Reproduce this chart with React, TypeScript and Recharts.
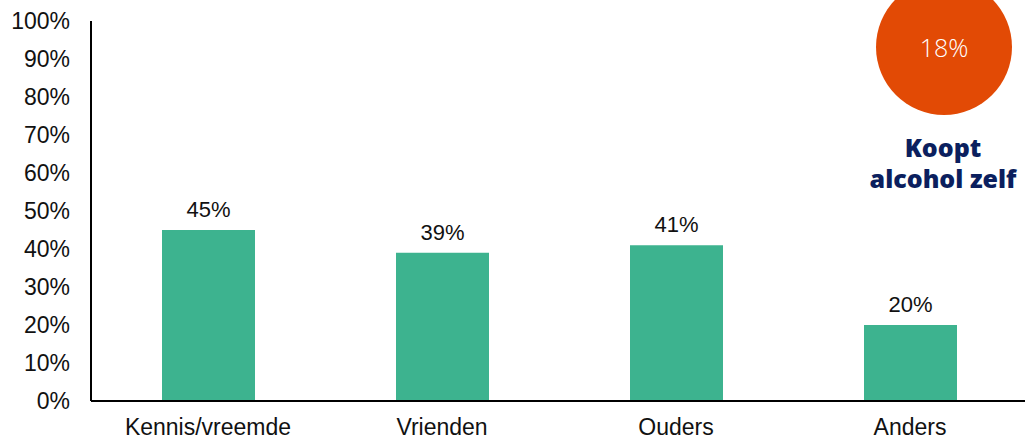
import React from "react";
import { BarChart, Bar, XAxis, YAxis, LabelList } from "recharts";

const categories = ["Kennis/vreemde", "Vrienden", "Ouders", "Anders"];
const values = [45, 39, 41, 20];
const yTicks = [0, 10, 20, 30, 40, 50, 60, 70, 80, 90, 100];
const highlightValue = 18;
const highlightLabel = ["Koopt", "alcohol zelf"];

const data = categories.map((name, i) => ({ name, value: values[i] }));

const FONT = "'Liberation Sans', Arial, Helvetica, sans-serif";

export default function App() {
  return (
    <div style={{ position: "absolute", left: 0, top: 0, width: 1025, height: 440, overflow: "hidden", background: "#fff" }}>
      <BarChart
        width={1027}
        height={440}
        data={data}
        margin={{ top: 21, right: 0, bottom: 0, left: 0 }}
        barCategoryGap="30%"
      >
        <XAxis
          dataKey="name"
          axisLine={{ stroke: "#000", strokeWidth: 2 }}
          tickLine={false}
          tickSize={0}
          tickMargin={18}
          height={39}
          tick={{ fill: "#111", fontSize: 23, fontFamily: FONT }}
          interval={0}
        />
        <YAxis
          domain={[0, 100]}
          ticks={yTicks}
          tickFormatter={(v: number) => `${v}%`}
          axisLine={{ stroke: "#000", strokeWidth: 2 }}
          tickLine={false}
          tickSize={0}
          tickMargin={21}
          width={91}
          tick={{ fill: "#111", fontSize: 23, fontFamily: FONT }}
        />
        <Bar dataKey="value" fill="#3DB38F" barSize={93} isAnimationActive={false}>
          <LabelList
            dataKey="value"
            position="top"
            offset={13}
            formatter={(v: number) => `${v}%`}
            style={{ fill: "#111", fontSize: 22, fontFamily: FONT }}
          />
        </Bar>
      </BarChart>
      <div
        style={{
          position: "absolute",
          left: 876,
          top: -21,
          width: 136,
          height: 136,
          borderRadius: "50%",
          background: "#E24A05",
          color: "#fff",
          display: "flex",
          alignItems: "center",
          justifyContent: "center",
          fontFamily: "'Open Sans', Inter, sans-serif",
          fontSize: 25,
          fontWeight: 300,
        }}
      >
        <span style={{ marginTop: 0 }}>{highlightValue}%</span>
      </div>
      <div
        style={{
          position: "absolute",
          left: 850,
          top: 132,
          width: 186,
          textAlign: "center",
          color: "#0B1F5E",
          fontFamily: "'Open Sans', Inter, sans-serif",
          fontWeight: 800,
          fontSize: 25,
          lineHeight: "31px",
        }}
      >
        {highlightLabel.map((l) => (
          <div key={l}>{l}</div>
        ))}
      </div>
    </div>
  );
}
